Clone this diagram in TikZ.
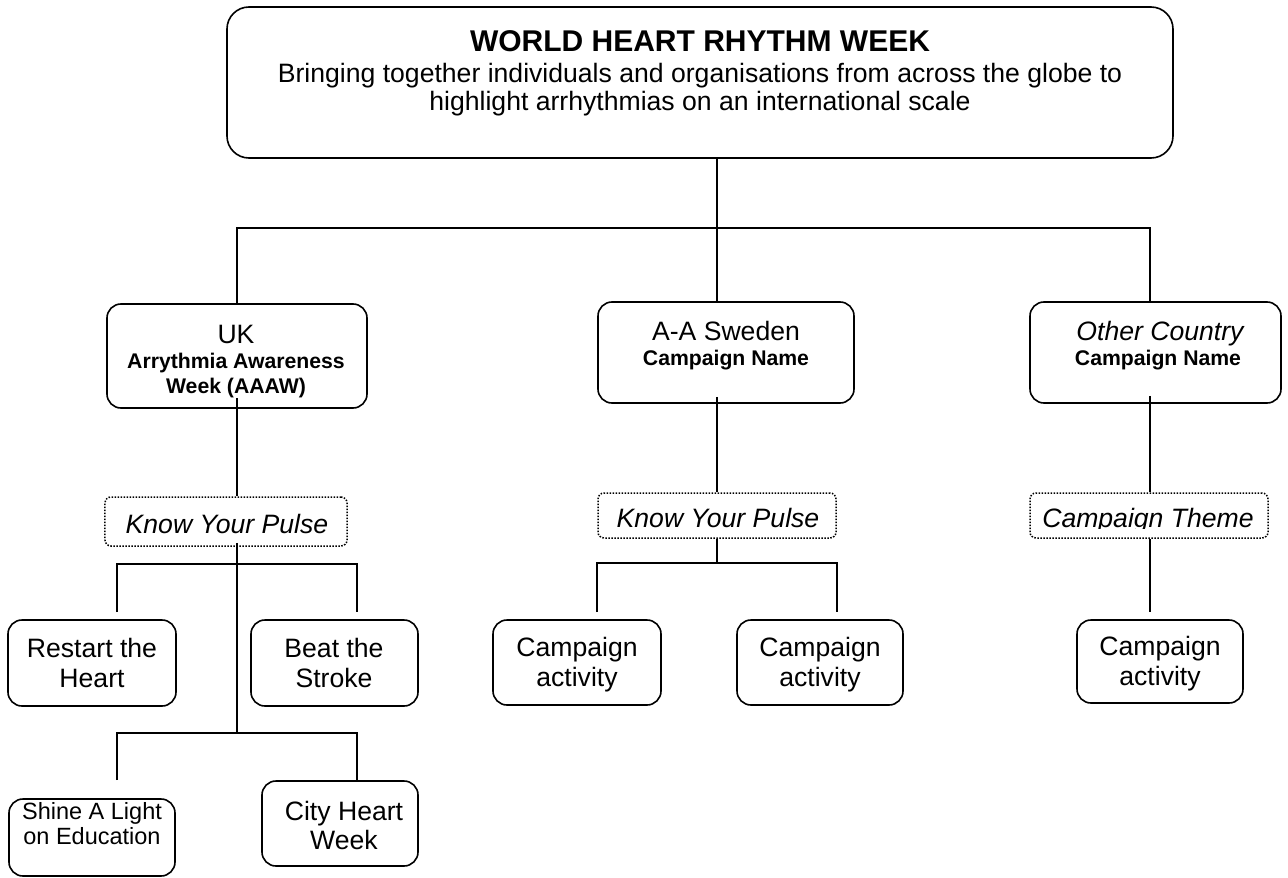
\documentclass[tikz,border=0pt]{standalone}
\usepackage{fontspec}
\setmainfont{Liberation Sans}
\usetikzlibrary{calc}
\begin{document}
\begin{tikzpicture}[x=1bp,y=-1bp,
  box/.style={draw, line width=1.6bp, rounded corners=14bp, inner sep=0pt},
  dotbox/.style={draw, line width=1.5bp, dash pattern=on 1.5bp off 1.5bp, rounded corners=6bp, inner sep=0pt},
  conn/.style={line width=1.5bp},
  txt/.style={inner sep=0pt, anchor=base},
  ftitle/.style={font=\fontsize{30bp}{34bp}\selectfont\bfseries},
  fbody/.style={font=\fontsize{26.6bp}{30bp}\selectfont},
  fital/.style={font=\fontsize{26.6bp}{30bp}\selectfont\itshape},
  fbold/.style={font=\fontsize{21.2bp}{24bp}\selectfont\bfseries},
  fsmall/.style={font=\fontsize{23.5bp}{27bp}\selectfont}]
\useasboundingbox (0,0) rectangle (1288,878);

% boxes
\node[box, rounded corners=22bp, minimum width=946bp, minimum height=151bp] (top) at (700,82.5) {};
\node[box, minimum width=260bp, minimum height=104bp] (uk) at (237,356) {};
\node[box, minimum width=256bp, minimum height=101bp] (swe) at (726,352.5) {};
\node[box, minimum width=251bp, minimum height=101bp] (oth) at (1155.5,352.5) {};
\node[dotbox, minimum width=242bp, minimum height=49bp] (kypuk) at (226,521.5) {};
\node[dotbox, minimum width=238bp, minimum height=45bp] (kypsw) at (717,515.5) {};
\node[dotbox, minimum width=238bp, minimum height=45bp] (theme) at (1149,515.5) {};
\node[box, minimum width=168bp, minimum height=86bp] (restart) at (92,663) {};
\node[box, minimum width=167bp, minimum height=86bp] (beat) at (334.5,663) {};
\node[box, minimum width=168bp, minimum height=85bp] (ca1) at (577,662.5) {};
\node[box, minimum width=166bp, minimum height=85bp] (ca2) at (820,662.5) {};
\node[box, minimum width=166bp, minimum height=83bp] (ca3) at (1160,661.5) {};
\node[box, minimum width=166bp, minimum height=77bp] (shine) at (92,837.5) {};
\node[box, minimum width=156bp, minimum height=85bp] (city) at (340,823.5) {};

% texts
\node[txt, ftitle] (t1) at (700,51) {WORLD HEART RHYTHM WEEK};
\node[txt, fbody] (t2) at (700,82) {Bringing together individuals and organisations from across the globe to};
\node[txt, fbody] (t3) at (700,110) {highlight arrhythmias on an international scale};

\node[txt, fbody] (uk1) at (236,343) {UK};
\node[txt, fbold] (uk2) at (236,368) {Arrythmia Awareness};
\node[txt, fbold] (uk3) at (236,393) {Week (AAAW)};

\node[txt, fbody] (sw1) at (726,340) {A-A Sweden};
\node[txt, fbold] (sw2) at (726,365) {Campaign Name};

\node[txt, fital] (ot1) at (1160,340) {Other Country};
\node[txt, fbold] (ot2) at (1158,365) {Campaign Name};

\node[txt, fital] (k1) at (227,533) {Know Your Pulse};
\node[txt, fital] (k2) at (718,527) {Know Your Pulse};
\begin{scope}
  \clip (1000,480) rectangle (1280,528.5);
  \node[txt, fital] (k3) at (1148,527) {Campaign Theme};
\end{scope}

\node[txt, fbody] (r1) at (92,657) {Restart the};
\node[txt, fbody] (r2) at (92,687) {Heart};
\node[txt, fbody] (b1) at (334,657) {Beat the};
\node[txt, fbody] (b2) at (334,687) {Stroke};

\node[txt, fbody] (ca1a) at (577,656) {Campaign};
\node[txt, fbody] (ca1b) at (577,686) {activity};
\node[txt, fbody] (ca2a) at (820,656) {Campaign};
\node[txt, fbody] (ca2b) at (820,686) {activity};
\node[txt, fbody] (ca3a) at (1160,655) {Campaign};
\node[txt, fbody] (ca3b) at (1160,685) {activity};

\node[txt, fsmall] (sh1) at (92,819) {Shine A Light};
\node[txt, fsmall] (sh2) at (92,844) {on Education};
\node[txt, fbody] (c1) at (344,820) {City Heart};
\node[txt, fbody] (c2) at (344,849) {Week};

% junction coordinates
\coordinate (j0) at (717,228);
\coordinate (jl) at (237,228);
\coordinate (jr) at (1150,228);
\coordinate (h1) at (237,564);
\coordinate (h1l) at (117,564);
\coordinate (h1r) at (357,564);
\coordinate (d1) at (117,612);
\coordinate (d2) at (357,612);
\coordinate (h2) at (237,733);
\coordinate (h2l) at (117,733);
\coordinate (h2r) at (357,733);
\coordinate (d3) at (117,780);
\coordinate (h3) at (717,563);
\coordinate (h3l) at (597,563);
\coordinate (h3r) at (837,563);
\coordinate (d5) at (597,612);
\coordinate (d6) at (837,612);
\coordinate (d7) at (1150,612);

% connectors
\draw[conn] (top.south -| j0) -- (j0);
\draw[conn] (uk.north -| jl) -- (jl) -- (jr) -- (oth.north -| jr);
\draw[conn] (j0) -- (swe.north -| j0);

\draw[conn] ($(uk.south -| jl)+(0,-11)$) -- (kypuk.north -| jl);
\draw[conn] ($(kypuk.south -| h2)+(0,-4)$) -- (h2);
\draw[conn] (d1) -- (h1l) -- (h1r) -- (d2);
\draw[conn] (d3) -- (h2l) -- (h2r) -- (city.north -| h2r);

\draw[conn] ($(swe.south -| j0)+(0,-7)$) -- (kypsw.north -| j0);
\draw[conn] (kypsw.south -| h3) -- (h3);
\draw[conn] (d5) -- (h3l) -- (h3r) -- (d6);

\draw[conn] ($(oth.south -| jr)+(0,-8)$) -- (theme.north -| jr);
\draw[conn] (theme.south -| d7) -- (d7);
\end{tikzpicture}
\end{document}
